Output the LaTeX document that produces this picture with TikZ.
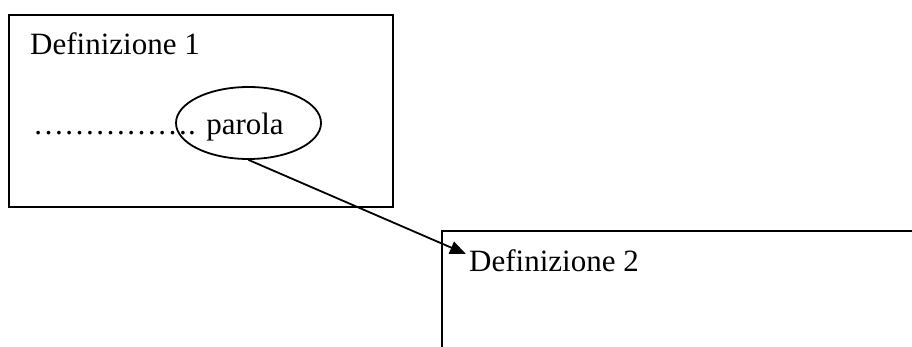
\documentclass[tikz,border=0pt]{standalone}
\usepackage{fontspec}
\setmainfont{Liberation Serif}
\usetikzlibrary{arrows.meta,shapes.geometric}
\begin{document}
\begin{tikzpicture}[x=1pt,y=-1pt,
  frame/.style={draw,line width=1.8pt,rectangle,inner sep=0pt},
  label/.style={anchor=base west,inner sep=0pt,font=\fontsize{31}{37}\selectfont},
  oval/.style={draw,line width=1.8pt,ellipse,inner sep=0pt}]
\useasboundingbox (0,0) rectangle (912,347);
\clip (0,0) rectangle (912,347);
\node[frame,minimum width=384pt,minimum height=192pt] (box1) at (201,111) {};
\node[frame,minimum width=490pt,minimum height=200pt] (box2) at (687,331) {};
\node[label] (t1) at (30,55) {Definizione 1};
\node[label] (dots) at (33,135) {……………. parola};
\node[oval,minimum width=145pt,minimum height=72pt] (e) at (248.5,123) {};
\node[label] (t2) at (469,271) {Definizione 2};
\coordinate (tip) at (466,254);
\draw[line width=1.8pt,-{Triangle[length=16pt,width=13pt]}] (e.south) -- (tip);
\end{tikzpicture}
\end{document}
